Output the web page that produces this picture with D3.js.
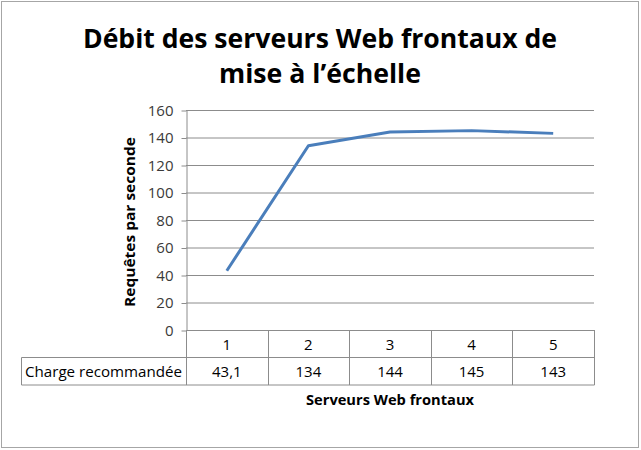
<!DOCTYPE html>
<html><head><meta charset="utf-8">
<script src="https://cdn.jsdelivr.net/npm/d3@7/dist/d3.min.js"></script>
<style>body{margin:0;background:#fff}svg{display:block}text{font-family:"Open Sans","Noto Sans",sans-serif}</style>
</head><body>
<svg id="c" width="641" height="450"></svg>
<script>
const categories = ["1","2","3","4","5"];
const values = [43.1, 134, 144, 145, 143];
const valueLabels = ["43,1","134","144","145","143"];
const yTicks = [0,20,40,60,80,100,120,140,160];
const seriesName = "Charge recommandée";
const titleLines = ["Débit des serveurs Web frontaux de","mise à l’échelle"];
const xTitle = "Serveurs Web frontaux";
const yTitle = "Requêtes par seconde";

const svg = d3.select("#c");
svg.append("rect").attr("x",1.5).attr("y",1.5).attr("width",637).attr("height",446)
  .attr("fill","#fff").attr("stroke","#a6a6a6");

const L=186, R=594, T=110, B=330;
const x = d3.scaleBand().domain(categories).range([L,R]).padding(0);
const y = d3.scaleLinear().domain([0,160]).range([B,T]);

// title
const tW=[474,202];
titleLines.forEach((t,i)=>{
  svg.append("text").attr("x",320).attr("y",48+i*35).attr("text-anchor","middle")
    .attr("font-size",27).attr("font-weight","bold").attr("fill","#000")
    .attr("textLength",tW[i]).attr("lengthAdjust","spacingAndGlyphs").text(t);
});

// gridlines
svg.append("g").selectAll("line").data(yTicks.filter(d=>d>0)).join("line")
  .attr("x1",L).attr("x2",R).attr("y1",d=>y(d)+0.5).attr("y2",d=>y(d)+0.5)
  .attr("stroke","#8c8c8c").attr("stroke-width",1);

// y axis
const ya = svg.append("g").attr("transform",`translate(${L+0.5},0.5)`)
  .call(d3.axisLeft(y).tickValues(yTicks).tickSize(5).tickPadding(8).tickSizeOuter(0));
ya.select(".domain").attr("stroke","#8c8c8c");
ya.selectAll(".tick line").attr("stroke","#8c8c8c");
ya.selectAll(".tick text").attr("font-size",15).attr("fill","#3a3a3a")
  .style("font-family",'"Open Sans",sans-serif');

// table
const rowTop=B, rowMid=357.5, rowBot=385, tabL=21.5;
const tg = svg.append("g").attr("stroke","#8c8c8c").attr("fill","none");
tg.append("line").attr("x1",L+0.5).attr("x2",R+0.5).attr("y1",rowTop+0.5).attr("y2",rowTop+0.5);
tg.append("line").attr("x1",tabL).attr("x2",R+0.5).attr("y1",rowMid).attr("y2",rowMid);
tg.append("line").attr("x1",tabL).attr("x2",R+0.5).attr("y1",rowBot).attr("y2",rowBot);
tg.append("line").attr("x1",tabL).attr("x2",tabL).attr("y1",rowMid).attr("y2",rowBot);
const bounds = categories.map(c=>x(c)).concat([R]);
tg.selectAll("line.v").data(bounds).join("line").attr("class","v")
  .attr("x1",d=>Math.round(d)+0.5).attr("x2",d=>Math.round(d)+0.5).attr("y1",rowTop).attr("y2",rowBot);

svg.append("g").selectAll("text").data(categories).join("text")
  .attr("x",d=>x(d)+x.bandwidth()/2).attr("y",349.5).attr("text-anchor","middle")
  .attr("font-size",15).attr("fill","#000").text(d=>d);
svg.append("g").selectAll("text").data(valueLabels).join("text")
  .attr("x",(d,i)=>x(categories[i])+x.bandwidth()/2).attr("y",377).attr("text-anchor","middle")
  .attr("font-size",15).attr("fill","#000").text(d=>d);
svg.append("text").attr("x",25).attr("y",377).attr("font-size",15).attr("fill","#000")
  .attr("textLength",157).attr("lengthAdjust","spacingAndGlyphs").text(seriesName);

// line
const line = d3.line().x((d,i)=>x(categories[i])+x.bandwidth()/2).y(d=>y(d));
svg.append("path").datum(values).attr("d",line).attr("fill","none")
  .attr("stroke","#4a7ebb").attr("stroke-width",3).attr("stroke-linejoin","round");

// axis titles
svg.append("text").attr("x",(L+R)/2).attr("y",405).attr("text-anchor","middle")
  .attr("font-size",15).attr("font-weight","bold").attr("fill","#000")
  .attr("textLength",168).attr("lengthAdjust","spacingAndGlyphs").text(xTitle);
svg.append("text").attr("transform",`translate(135,${(T+B)/2+2}) rotate(-90)`)
  .attr("text-anchor","middle").attr("font-size",15).attr("font-weight","bold").attr("fill","#000")
  .attr("textLength",170).attr("lengthAdjust","spacingAndGlyphs").text(yTitle);
</script>
</body></html>
